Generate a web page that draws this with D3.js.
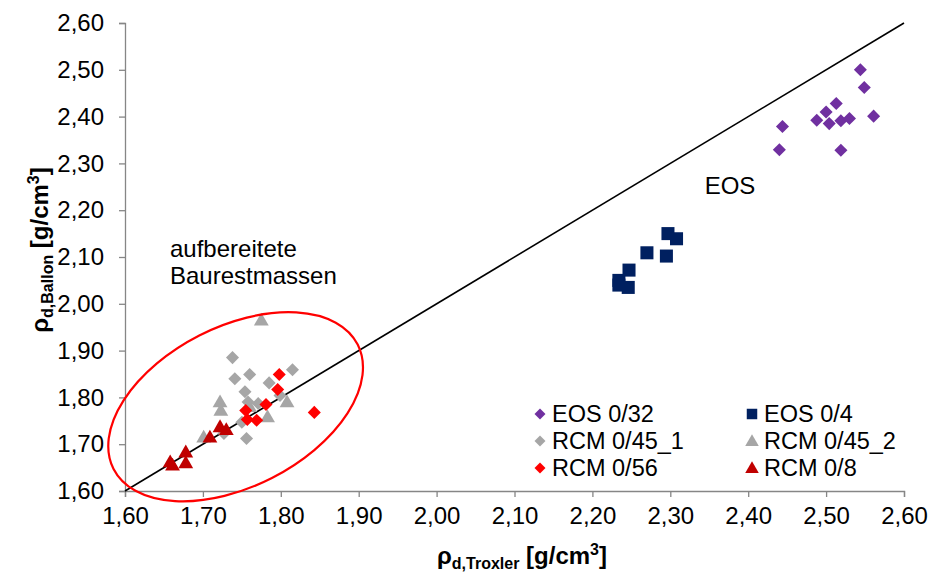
<!DOCTYPE html>
<html>
<head>
<meta charset="utf-8">
<script src="https://d3js.org/d3.v7.min.js"></script>
<style>
  body { margin: 0; background: #fff; }
  text { font-family: "Liberation Sans", Arial, sans-serif; fill: #000; }
</style>
</head>
<body>
<div id="chart"></div>
<script>
// x = rho d,Troxler, y = rho d,Ballon  [g/cm3]
var eos032 = [[2.544,2.500],[2.549,2.462],[2.513,2.428],[2.500,2.410],[2.488,2.392],[2.504,2.385],
              [2.519,2.391],[2.530,2.396],[2.561,2.401],[2.444,2.379],[2.440,2.329],[2.519,2.328]];
var eos04 = [[2.297,2.150],[2.308,2.139],[2.270,2.109],[2.295,2.102],[2.247,2.072],[2.234,2.050],
             [2.234,2.040],[2.246,2.035]];
var rcm045_1 = [[1.738,1.885],[1.741,1.840],[1.760,1.849],[1.815,1.859],[1.785,1.831],[1.754,1.812],
                [1.799,1.804],[1.756,1.712],[1.750,1.747],[1.727,1.723],[1.771,1.787],[1.758,1.790]];
var rcm045_2 = [[1.775,1.965],[1.722,1.790],[1.723,1.772],[1.808,1.790],[1.783,1.758],[1.701,1.715],
                [1.760,1.780]];
var rcm056 = [[1.798,1.849],[1.796,1.817],[1.781,1.785],[1.755,1.772],[1.757,1.753],[1.769,1.751],
              [1.843,1.768]];
var rcm08 = [[1.658,1.662],[1.661,1.655],[1.678,1.683],[1.678,1.660],[1.709,1.715],[1.722,1.737],
             [1.730,1.731]];

var seriesNames = ["EOS 0/32", "EOS 0/4", "RCM 0/45_1", "RCM 0/45_2", "RCM 0/56", "RCM 0/8"];
var seriesData = [eos032, eos04, rcm045_1, rcm045_2, rcm056, rcm08];
var seriesColors = ["#7030a0", "#002060", "#a6a6a6", "#a6a6a6", "#ff0000", "#c00000"];
var seriesShapes = ["diamond", "square", "diamond", "triangle", "diamond", "triangle"];

var ticks = [1.6, 1.7, 1.8, 1.9, 2.0, 2.1, 2.2, 2.3, 2.4, 2.5, 2.6];
var diagLine = [[1.6, 1.6], [2.6, 2.6]];
var groupCenter = [1.742, 1.780];

var width = 930, height = 575;
var margin = {left: 125, right: 26, top: 23, bottom: 84};

var svg = d3.select("#chart").append("svg")
    .attr("width", width).attr("height", height);

var x = d3.scaleLinear().domain([1.6, 2.6]).range([margin.left, width - margin.right]);
var y = d3.scaleLinear().domain([1.6, 2.6]).range([height - margin.bottom, margin.top]);

var fmt = function(d) { return d3.format(".2f")(d).replace(".", ","); };

// axes
var xAxis = svg.append("g")
    .attr("transform", "translate(0," + y(1.6) + ")")
    .call(d3.axisBottom(x).tickValues(ticks).tickFormat(fmt).tickSizeOuter(0).tickSize(6).tickPadding(10));
var yAxis = svg.append("g")
    .attr("transform", "translate(" + x(1.6) + ",0)")
    .call(d3.axisLeft(y).tickValues(ticks).tickFormat(fmt).tickSizeOuter(0).tickSize(6).tickPadding(15));
[xAxis, yAxis].forEach(function(a) {
  a.select(".domain").attr("stroke", "#868686").attr("stroke-width", 1.3);
  a.selectAll(".tick line").attr("stroke", "#868686").attr("stroke-width", 1.3);
  a.selectAll(".tick text").style("font-family", "Liberation Sans, Arial, sans-serif")
    .style("font-size", "24px").attr("fill", "#000");
});

// 1:1 line
svg.append("path")
    .attr("d", d3.line().x(function(d) { return x(d[0]); }).y(function(d) { return y(d[1]); })(diagLine))
    .attr("stroke", "#000").attr("stroke-width", 1.6).attr("fill", "none");

// markers
function symPath(shape) {
  if (shape === "square") return d3.symbol(d3.symbolSquare, 170)();
  if (shape === "triangle") return d3.symbol(d3.symbolTriangle, 95)();
  return d3.symbol(d3.symbolSquare, 85)();
}
function symRot(shape) { return shape === "diamond" ? " rotate(45)" : ""; }

seriesData.forEach(function(data, i) {
  svg.append("g").selectAll("path").data(data).enter().append("path")
      .attr("d", symPath(seriesShapes[i]))
      .attr("transform", function(d) {
        var dy = seriesShapes[i] === "triangle" ? 1 : 0;
        return "translate(" + x(d[0]) + "," + (y(d[1]) + dy) + ")" + symRot(seriesShapes[i]);
      })
      .attr("fill", seriesColors[i]);
});

// ellipse around recycled material
svg.append("ellipse")
    .attr("cx", 0).attr("cy", 0).attr("rx", 137).attr("ry", 80)
    .attr("transform", "translate(" + x(groupCenter[0]) + "," + y(groupCenter[1]) + ") rotate(-27)")
    .attr("fill", "none").attr("stroke", "#ff0000").attr("stroke-width", 2.2);

// annotations
svg.append("text").attr("x", 170).attr("y", 257).style("font-size", "24px").text("aufbereitete");
svg.append("text").attr("x", 170).attr("y", 284).style("font-size", "24px").text("Baurestmassen");
svg.append("text").attr("x", 730).attr("y", 194).attr("text-anchor", "middle").style("font-size", "24px").text("EOS");

// legend
var legCols = [540, 752], legRows = [414, 441, 468];
seriesNames.forEach(function(name, i) {
  var cx = legCols[i % 2], cy = legRows[Math.floor(i / 2)];
  var shape = seriesShapes[i];
  var p = shape === "square" ? d3.symbol(d3.symbolSquare, 110)()
        : shape === "triangle" ? d3.symbol(d3.symbolTriangle, 80)()
        : d3.symbol(d3.symbolSquare, 60)();
  svg.append("path").attr("d", p)
      .attr("transform", "translate(" + cx + "," + (cy + (shape === "triangle" ? 1 : 0)) + ")" + symRot(shape))
      .attr("fill", seriesColors[i]);
  svg.append("text").attr("x", cx + 12).attr("y", cy + 8).style("font-size", "23.5px").text(name);
});

// axis titles
var xt = svg.append("text").attr("x", 522).attr("y", 564).attr("text-anchor", "middle")
    .style("font-size", "24px").style("font-weight", "bold");
xt.append("tspan").text("ρ");
xt.append("tspan").attr("dy", 5).style("font-size", "16px").text("d,Troxler");
xt.append("tspan").attr("dy", -5).text(" [g/cm");
xt.append("tspan").attr("dy", -9).style("font-size", "16px").text("3");
xt.append("tspan").attr("dy", 9).text("]");

var yt = svg.append("text").attr("transform", "translate(48,250) rotate(-90)").attr("text-anchor", "middle")
    .style("font-size", "24px").style("font-weight", "bold");
yt.append("tspan").text("ρ");
yt.append("tspan").attr("dy", 5).style("font-size", "16px").text("d,Ballon");
yt.append("tspan").attr("dy", -5).text(" [g/cm");
yt.append("tspan").attr("dy", -9).style("font-size", "16px").text("3");
yt.append("tspan").attr("dy", 9).text("]");
</script>
</body>
</html>
